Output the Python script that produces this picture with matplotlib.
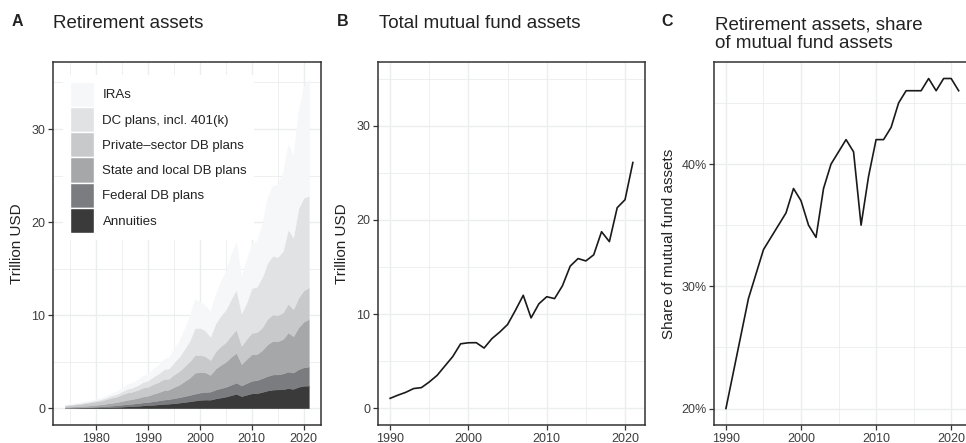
import matplotlib
matplotlib.use("Agg")
import matplotlib.pyplot as plt
from matplotlib.patches import Patch
from matplotlib.ticker import MultipleLocator, PercentFormatter

plt.rcParams['font.family'] = ['Liberation Sans', 'DejaVu Sans']

# Panel A: retirement assets by type, trillion USD (1974-2021)
years_a = list(range(1974, 2022))
annuities = [.02, .03, .03, .04, .05, .06,
             .07, .08, .10, .12, .14, .17, .20, .23, .26, .30,
             .33, .37, .41, .46, .49, .54, .60, .67, .74, .82,
             .90, .93, .92, 1.05, 1.15, 1.25, 1.40, 1.55, 1.30, 1.45,
             1.60, 1.62, 1.75, 1.90, 2.00, 2.02, 2.05, 2.15, 2.08, 2.30,
             2.42, 2.43]
federal_db = [.03, .04, .05, .06, .07, .08,
              .10, .12, .14, .16, .18, .21, .24, .26, .29, .32,
              .34, .38, .42, .46, .49, .54, .58, .63, .68, .74,
              .78, .82, .86, .95, 1.00, 1.05, 1.12, 1.20, 1.15, 1.25,
              1.35, 1.40, 1.48, 1.55, 1.62, 1.62, 1.68, 1.78, 1.75, 1.88,
              1.98, 2.04]
state_local_db = [.09, .10, .12, .13, .15, .17,
                  .20, .22, .26, .30, .33, .40, .46, .50, .56, .64,
                  .68, .80, .88, 1.00, 1.02, 1.20, 1.35, 1.60, 1.85, 2.25,
                  2.20, 2.10, 1.80, 2.25, 2.50, 2.70, 3.00, 3.20, 2.30, 2.60,
                  2.85, 2.80, 3.00, 3.40, 3.60, 3.55, 3.70, 4.20, 3.90, 4.50,
                  4.90, 5.10]
private_db = [.15, .18, .21, .24, .28, .32,
              .37, .40, .48, .55, .60, .70, .78, .80, .85, .95,
              .95, 1.05, 1.10, 1.20, 1.18, 1.35, 1.45, 1.60, 1.75, 1.90,
              1.85, 1.75, 1.60, 1.85, 2.00, 2.10, 2.30, 2.50, 1.95, 2.15,
              2.30, 2.35, 2.45, 2.75, 2.85, 2.80, 2.85, 3.10, 2.90, 3.20,
              3.35, 3.40]
dc_plans = [.06, .07, .08, .09, .10, .12,
            .14, .16, .20, .25, .28, .35, .40, .44, .50, .60,
            .68, .80, .90, 1.05, 1.10, 1.30, 1.55, 1.85, 2.20, 2.90,
            2.90, 2.75, 2.50, 3.00, 3.30, 3.50, 3.90, 4.30, 3.50, 3.90,
            4.80, 4.90, 5.40, 6.00, 6.30, 6.25, 6.60, 8.00, 7.70, 9.60,
            9.95, 9.83]
iras = [.03, .04, .05, .06, .08, .11,
        .12, .14, .20, .24, .29, .37, .47, .52, .59, .69,
        .67, .85, .94, 1.08, 1.17, 1.47, 1.72, 2.15, 2.73, 3.09,
        2.82, 2.65, 2.72, 3.10, 3.65, 4.10, 4.78, 5.05, 3.80, 4.65,
        4.70, 4.93, 5.72, 7.00, 7.53, 7.76, 8.42, 9.07, 8.77, 10.32,
        12.00, 12.50]

layer_names = ['Annuities', 'Federal DB plans', 'State and local DB plans',
               'Private\u2013sector DB plans', 'DC plans, incl. 401(k)', 'IRAs']
layer_colors = ['#3a3a3a', '#7b7c7f', '#a5a7a9', '#c8c9ca', '#e1e2e3', '#f6f7f9']

# Panels B and C (1990-2021)
years_b = list(range(1990, 2022))
mutual_fund_assets = [1.06, 1.40, 1.70, 2.10, 2.20, 2.80, 3.50, 4.50, 5.50, 6.85,
                      6.96, 6.97, 6.40, 7.40, 8.10, 8.90, 10.40, 12.00, 9.60, 11.10,
                      11.85, 11.65, 13.00, 15.10, 15.90, 15.65, 16.30, 18.75, 17.70, 21.30,
                      22.15, 26.10]
retirement_share = [20, 23, 26, 29, 31, 33, 34, 35, 36, 38,
                    37, 35, 34, 38, 40, 41, 42, 41, 35, 39,
                    42, 42, 43, 45, 46, 46, 46, 47, 46, 47,
                    47, 46]

grid_col = '#ebeeee'
text_col = '#222222'
tick_col = '#3d3d3d'


def style_axes(ax):
    ax.set_axisbelow(True)
    ax.grid(which='major', color=grid_col, lw=1.0)
    ax.grid(which='minor', color=grid_col, lw=0.6)
    for s in ax.spines.values():
        s.set_color('#333333')
        s.set_linewidth(1.1)
    ax.tick_params(which='major', length=3.5, width=0.9, color='#333333',
                   labelsize=9, labelcolor=tick_col, pad=2)
    ax.tick_params(which='minor', length=0)


W, H = 966, 443
fig = plt.figure(figsize=(W / 100, H / 100), dpi=100)

ax_a = fig.add_axes([53 / W, 18 / H, 268 / W, 363 / H])
ax_b = fig.add_axes([378 / W, 18 / H, 267 / W, 363 / H])
ax_c = fig.add_axes([714.3 / W, 18 / H, 256 / W, 363 / H])

# A
polys = ax_a.stackplot(years_a, annuities, federal_db, state_local_db, private_db,
                       dc_plans, iras, colors=layer_colors, lw=0.3)
for p, c in zip(polys, layer_colors):
    p.set_edgecolor(c)
ax_a.set_xlim(1971.65, 2023.35)
ax_a.set_ylim(-1.8, 37.2)
ax_a.xaxis.set_major_locator(MultipleLocator(10))
ax_a.xaxis.set_minor_locator(MultipleLocator(5))
ax_a.yaxis.set_major_locator(MultipleLocator(10))
ax_a.yaxis.set_minor_locator(MultipleLocator(5))
ax_a.set_ylabel('Trillion USD', fontsize=11, color=text_col, labelpad=5)
style_axes(ax_a)

handles = [Patch(facecolor=c, edgecolor='white', lw=1.0) for c in layer_colors][::-1]
leg = ax_a.legend(handles, layer_names[::-1], loc='upper left',
                  bbox_to_anchor=(0.037, 0.964), borderaxespad=0, fontsize=9.5,
                  handlelength=1.82, handleheight=2.57, labelspacing=0,
                  handletextpad=0.68, borderpad=0.5, frameon=True,
                  fancybox=False, framealpha=1)
leg.get_frame().set_edgecolor('none')
for t in leg.get_texts():
    t.set_color(text_col)

# B
ax_b.plot(years_b, mutual_fund_assets, color='#1a1a1a', lw=1.2)
ax_b.set_xlim(1988.45, 2022.55)
ax_b.set_ylim(-1.77, 36.77)
ax_b.xaxis.set_major_locator(MultipleLocator(10))
ax_b.xaxis.set_minor_locator(MultipleLocator(5))
ax_b.yaxis.set_major_locator(MultipleLocator(10))
ax_b.yaxis.set_minor_locator(MultipleLocator(5))
ax_b.set_ylabel('Trillion USD', fontsize=11, color=text_col, labelpad=5)
style_axes(ax_b)

# C
ax_c.plot(years_b, retirement_share, color='#1a1a1a', lw=1.2)
ax_c.set_xlim(1988.45, 2022.55)
ax_c.set_ylim(18.65, 48.35)
ax_c.xaxis.set_major_locator(MultipleLocator(10))
ax_c.xaxis.set_minor_locator(MultipleLocator(5))
ax_c.yaxis.set_major_locator(MultipleLocator(10))
ax_c.yaxis.set_minor_locator(MultipleLocator(5))
ax_c.yaxis.set_major_formatter(PercentFormatter(xmax=100, decimals=0))
ax_c.set_ylabel('Share of mutual fund assets', fontsize=11, color=text_col, labelpad=4)
style_axes(ax_c)

# panel letters and titles (y = baseline of the last title line, px from top)
panels = [('A', 12, 'Retirement assets', 53, 28.3),
          ('B', 336.7, 'Total mutual fund assets', 379, 28.3),
          ('C', 661.7, 'Retirement assets, share\nof mutual fund assets', 715, 48.5)]
for letter, lx, title, tx, ty in panels:
    fig.text(lx / W, 1 - 26 / H, letter, fontsize=11.5, fontweight='bold',
             color=text_col, va='baseline', ha='left')
    fig.text(tx / W, 1 - ty / H, title, fontsize=13.5, color=text_col,
             va='baseline', ha='left', linespacing=1.17)

fig.savefig('out.png', dpi=100)
